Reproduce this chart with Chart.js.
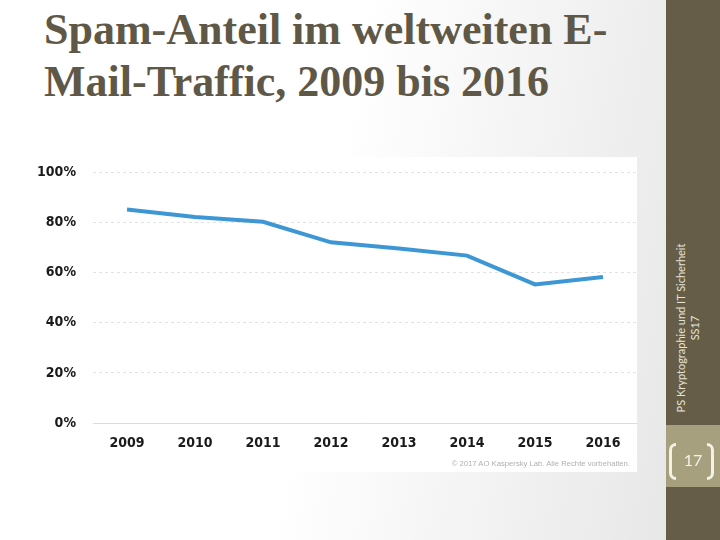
<!DOCTYPE html>
<html>
<head>
<meta charset="utf-8">
<script src="https://cdn.jsdelivr.net/npm/chart.js@4"></script>
<style>
  html,body{margin:0;padding:0}
  body{width:720px;height:540px;position:relative;overflow:hidden;
    background:linear-gradient(100deg,#ffffff 45%,#e4e4e4 100%)}
  #title{position:absolute;left:44px;top:4px;margin:0;
    font:bold 44px/52px 'Liberation Serif','DejaVu Serif',serif;color:#5f5847}
  #box{position:absolute;left:30px;top:157px;width:607px;height:315px;background:#fff}
  #chart{position:absolute;left:30px;top:147px}
  #copy{position:absolute;right:90px;top:459px;font:7.7px 'Liberation Sans',Arial,sans-serif;color:#b0b0b0}
  #side{position:absolute;left:666px;top:0;width:54px;height:540px;background:#655d47}
  #pg{position:absolute;left:666px;top:425px;width:54px;height:62px;background:#a6a07f}
  #vt{position:absolute;left:688px;top:328px;width:0;height:0}
  #vt div{position:absolute;transform:translate(-50%,-50%) rotate(-90deg);white-space:nowrap;
    font:11px/14px Lato,'Open Sans',sans-serif;color:#e8e4d4;text-align:center}
  .br{position:absolute;top:443px;width:4px;height:31px;border:3px solid #f4f2e6}
  #bl{left:669px;border-right:none;border-radius:7px 0 0 7px}
  #brr{left:707px;border-left:none;border-radius:0 7px 7px 0}
  #num{position:absolute;left:666px;top:450px;width:54px;text-align:center;
    font:16px Lato,'Open Sans',sans-serif;color:#f4f2e6}
</style>
</head>
<body>
<h1 id="title">Spam-Anteil im weltweiten E-<br>Mail-Traffic, 2009 bis 2016</h1>
<div id="box"></div>
<canvas id="chart" width="607" height="325"></canvas>
<div id="copy">© 2017 AO Kaspersky Lab. Alle Rechte vorbehalten.</div>
<div id="side"></div>
<div id="pg"></div>
<div id="vt"><div>PS Kryptographie und IT Sicherheit<br>SS17</div></div>
<div class="br" id="bl"></div>
<div class="br" id="brr"></div>
<div id="num">17</div>
<script>
// data
const years = ['2009','2010','2011','2012','2013','2014','2015','2016'];
const spamShare = [85.2, 82.2, 80.3, 72.1, 69.6, 66.8, 55.3, 58.3];
const yMin = 0, yMax = 100, yStep = 20;

const tickFont = { family: "'Liberation Sans Narrow','DejaVu Sans Condensed',sans-serif", size: 14, weight: 'bold' };

new Chart(document.getElementById('chart').getContext('2d'), {
  type: 'line',
  data: { labels: years, datasets: [{ data: spamShare, borderColor: '#3c97d4', borderWidth: 4,
    pointRadius: 0, tension: 0, fill: false }] },
  options: {
    responsive: false, animation: false,
    layout: { padding: { top: 2, right: 0, left: 0, bottom: 0 } },
    plugins: { legend: { display: false }, tooltip: { enabled: false } },
    scales: {
      x: {
        offset: true,
        grid: { display: false, drawTicks: false },
        border: { display: true, color: '#dcdcdc', width: 1 },
        ticks: { font: tickFont, color: '#1a1a1a', padding: 12, maxRotation: 0 },
        afterFit: s => { s.height = 49; }
      },
      y: {
        min: yMin, max: yMax,
        grid: { color: '#e2e2e2', drawTicks: false },
        border: { display: false, dash: [3, 3] },
        ticks: { stepSize: yStep, font: tickFont, color: '#1a1a1a', padding: 17, callback: v => v + '%' },
        afterFit: s => { s.width = 63; }
      }
    }
  }
});
</script>
</body>
</html>
